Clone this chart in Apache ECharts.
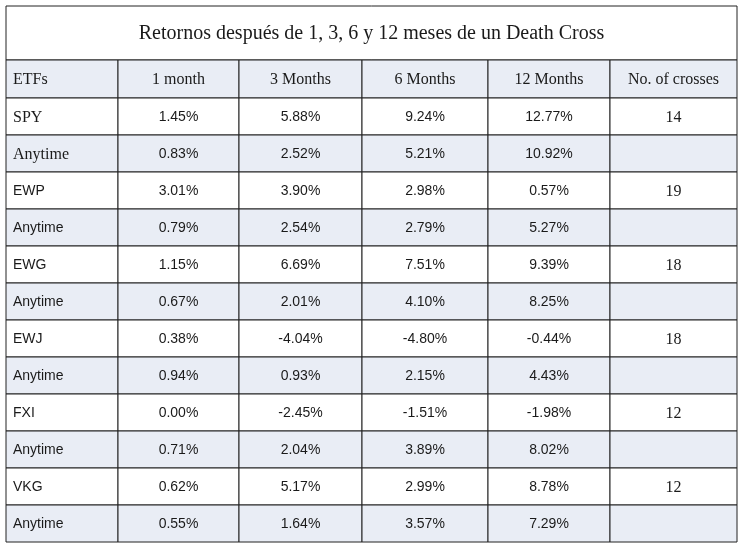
<!DOCTYPE html>
<html>
<head>
<meta charset="utf-8">
<script src="https://cdn.jsdelivr.net/npm/echarts@6/dist/echarts.min.js"></script>
<style>html,body{margin:0;padding:0;background:#fff}#chart{width:740px;height:546px}</style>
</head>
<body>
<div id="chart"></div>
<script>
var title = 'Retornos después de 1, 3, 6 y 12 meses de un Death Cross';
var headers = ['ETFs', '1 month', '3 Months', '6 Months', '12 Months', 'No. of crosses'];
var etfs = ['SPY', 'Anytime', 'EWP', 'Anytime', 'EWG', 'Anytime', 'EWJ', 'Anytime', 'FXI', 'Anytime', 'VKG', 'Anytime'];
var month1 = ['1.45%', '0.83%', '3.01%', '0.79%', '1.15%', '0.67%', '0.38%', '0.94%', '0.00%', '0.71%', '0.62%', '0.55%'];
var month3 = ['5.88%', '2.52%', '3.90%', '2.54%', '6.69%', '2.01%', '-4.04%', '0.93%', '-2.45%', '2.04%', '5.17%', '1.64%'];
var month6 = ['9.24%', '5.21%', '2.98%', '2.79%', '7.51%', '4.10%', '-4.80%', '2.15%', '-1.51%', '3.89%', '2.99%', '3.57%'];
var month12 = ['12.77%', '10.92%', '0.57%', '5.27%', '9.39%', '8.25%', '-0.44%', '4.43%', '-1.98%', '8.02%', '8.78%', '7.29%'];
var crosses = ['14', '', '19', '', '18', '', '18', '', '12', '', '12', ''];

var colEdges = [6, 118, 239, 362, 488, 610, 737];
var titleTop = 6, headTop = 60, bodyTop = 98, rowH = 37;
var shade = '#e9edf5';
var serif = '"Liberation Serif", "Times New Roman", serif';
var sans = '"Liberation Sans", Arial, sans-serif';

// cells: [x0, x1, y0, y1, text, fill, font, size, align]
var cells = [];
cells.push([colEdges[0], colEdges[6], titleTop, headTop, title, '#fff', serif, 20, 'center']);
headers.forEach(function (h, c) {
  cells.push([colEdges[c], colEdges[c + 1], headTop, bodyTop, h, shade, serif, 16, c === 0 ? 'left' : 'center']);
});
var cols = [etfs, month1, month3, month6, month12, crosses];
etfs.forEach(function (e, r) {
  var y0 = bodyTop + r * rowH;
  var fill = r % 2 === 1 ? shade : '#fff';
  cols.forEach(function (list, c) {
    var font = sans, size = 14;
    if (c === 0 && r < 2) { font = serif; size = 16; }
    if (c === 5) { font = serif; size = 16; }
    cells.push([colEdges[c], colEdges[c + 1], y0, y0 + rowH, list[r], fill, font, size, c === 0 ? 'left' : 'center']);
  });
});

var chart = echarts.init(document.getElementById('chart'));
chart.setOption({
  animation: false,
  grid: { left: 0, right: 0, top: 0, bottom: 0 },
  xAxis: { type: 'value', min: 0, max: 740, show: false },
  yAxis: { type: 'value', min: 0, max: 546, inverse: true, show: false },
  series: [{
    type: 'custom',
    data: cells,
    renderItem: function (params, api) {
      var p0 = api.coord([api.value(0), api.value(2)]);
      var p1 = api.coord([api.value(1), api.value(3)]);
      var d = cells[params.dataIndex];
      var tx = d[8] === 'left' ? p0[0] + 7 : (p0[0] + p1[0]) / 2;
      return {
        type: 'group',
        children: [{
          type: 'rect',
          shape: { x: p0[0], y: p0[1], width: p1[0] - p0[0], height: p1[1] - p0[1] },
          style: { fill: d[5], stroke: '#222', lineWidth: 1 }
        }, {
          type: 'text',
          style: {
            x: tx, y: (p0[1] + p1[1]) / 2 + 1, text: d[4], fill: '#1a1a1a',
            font: d[7] + 'px ' + d[6], align: d[8], verticalAlign: 'middle'
          }
        }]
      };
    }
  }]
});
</script>
</body>
</html>
